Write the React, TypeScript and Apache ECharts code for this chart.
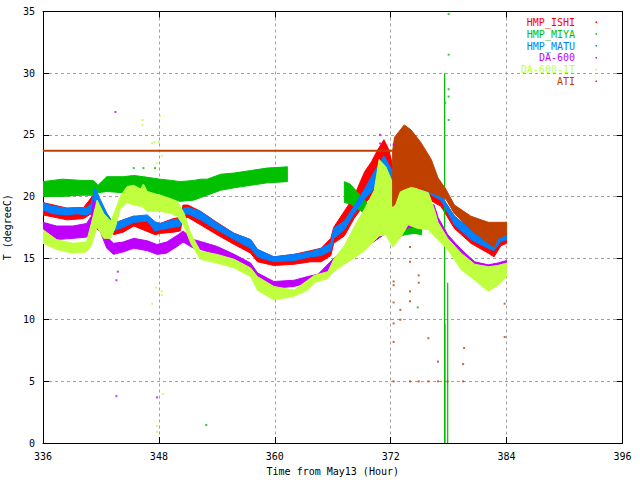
import React, { useEffect, useRef } from "react";
import * as echarts from "echarts";

const X_MIN = 336;
const X_MAX = 396;
const X_STEP = 12;
const Y_MIN = 0;
const Y_MAX = 35;
const Y_STEP = 5;

const X_TITLE = "Time from May13 (Hour)";
const Y_TITLE = "T (degreeC)";

const NAMES = ["HMP_ISHI", "HMP_MIYA", "HMP_MATU", "DA-600", "DA-600-1T", "ATI"];
const COLORS = ["#ff0000", "#00c000", "#0080ff", "#c000ff", "#c0ff40", "#c04000"];

// HMP_ISHI (red) band
const ishiT = [336.0, 338.5, 340.2, 341.4, 341.9, 342.6, 343.3, 344.3, 345.4, 347.6, 348.1, 349.5, 350.2, 350.5, 351.0, 352.3, 354.0, 355.8, 357.5, 358.2, 359.9, 362.0, 363.7, 364.8, 365.8, 366.1, 367.2, 368.2, 369.3, 370.0, 370.6, 371.3, 371.8, 372.2, 375.0, 376.5, 377.2, 378.6, 380.3, 382.1, 382.7, 383.4, 384.0];
const ishiLo = [18.5, 18.1, 18.2, 18.8, 18.5, 17.7, 16.9, 17.1, 17.6, 16.9, 17.0, 17.1, 17.2, 18.2, 18.3, 17.7, 16.9, 16.1, 15.4, 14.7, 14.4, 14.5, 14.7, 14.7, 15.2, 16.2, 16.8, 18.2, 19.4, 20.0, 20.5, 21.0, 20.6, 20.3, 20.3, 19.5, 19.2, 17.4, 16.2, 15.4, 15.1, 16.0, 16.2];
const ishiHi = [19.5, 19.05, 19.1, 20.3, 19.6, 18.6, 17.8, 18.1, 18.4, 17.9, 17.8, 18.2, 18.3, 19.3, 19.3, 18.8, 17.9, 17.0, 16.5, 15.7, 15.1, 15.3, 15.6, 15.8, 16.6, 17.5, 18.8, 20.0, 22.0, 22.8, 23.7, 24.6, 23.8, 22.5, 21.5, 20.6, 20.1, 18.4, 17.3, 16.4, 16.0, 16.9, 17.0];

// HMP_MIYA (green) bands
const miyaT1 = [336.0, 338.0, 340.0, 341.2, 341.7, 342.6, 344.3, 345.4, 346.4, 348.1, 349.3, 350.2, 351.6, 352.3, 353.0, 354.4, 355.8, 357.5, 359.2, 361.3];
const miyaLo1 = [20.0, 20.0, 20.1, 20.1, 20.3, 20.4, 20.3, 20.4, 20.2, 20.2, 19.8, 19.6, 19.7, 19.9, 20.1, 20.5, 20.7, 20.9, 21.1, 21.2];
const miyaHi1 = [21.2, 21.4, 21.3, 21.3, 20.9, 21.6, 21.6, 21.7, 21.6, 21.4, 21.3, 21.2, 21.3, 21.4, 21.4, 21.8, 21.9, 22.1, 22.3, 22.4];
const miyaT2 = [367.2, 367.8, 368.6, 369.5, 370.5, 371.5, 372.5, 373.5, 374.5, 375.2];
const miyaLo2 = [19.5, 19.4, 19.0, 18.5, 17.8, 17.0, 16.6, 16.9, 17.0, 16.9];
const miyaHi2 = [21.2, 21.0, 20.3, 19.5, 18.6, 17.8, 17.4, 17.8, 17.8, 17.6];
const miyaSpikeT = [377.58, 377.62, 377.9];
const miyaSpikeLo = [0, 0, 0];
const miyaSpikeHi = [30.0, 9.7, 13.0];
const miyaDotT = [378.0, 378.0, 378.0, 378.0, 377.65, 378.0, 352.9, 374.8, 345.4, 346.4, 347.6];
const miyaDotV = [34.8, 31.5, 28.7, 28.1, 27.6, 26.2, 1.46, 11.0, 22.3, 22.3, 22.3];

// HMP_MATU (blue) band
const matuT = [336.0, 337.0, 338.5, 339.5, 340.5, 341.0, 341.4, 341.9, 342.6, 343.3, 344.3, 345.4, 346.8, 347.6, 348.1, 349.5, 350.2, 350.5, 351.0, 352.3, 354.0, 355.8, 357.5, 358.2, 359.9, 362.0, 363.7, 364.8, 365.8, 366.1, 367.2, 368.2, 369.3, 370.0, 370.6, 371.3, 371.8, 372.2, 373.5, 375.0, 376.5, 377.2, 378.6, 380.3, 382.1, 382.7, 383.4, 384.0];
const matuLo = [18.9, 18.6, 18.5, 18.6, 18.5, 18.7, 19.2, 18.9, 18.1, 17.2, 17.5, 17.9, 18.0, 17.2, 17.3, 17.5, 17.6, 18.5, 18.6, 18.1, 17.3, 16.5, 15.8, 15.1, 14.7, 14.8, 15.1, 15.2, 15.6, 16.6, 17.3, 18.6, 19.8, 20.4, 21.0, 21.5, 21.0, 20.8, 20.8, 20.8, 20.0, 19.7, 17.7, 16.5, 15.8, 15.6, 16.35, 16.5];
const matuHi = [19.5, 19.2, 19.05, 19.1, 19.1, 19.4, 20.7, 19.8, 18.65, 17.8, 18.1, 18.4, 18.5, 17.95, 17.8, 18.1, 18.2, 19.05, 19.1, 18.8, 17.85, 17.0, 16.5, 15.7, 15.1, 15.3, 15.5, 15.8, 16.2, 17.4, 18.0, 19.2, 20.6, 21.6, 22.4, 23.3, 22.6, 22.0, 21.5, 21.5, 20.6, 20.1, 18.4, 17.3, 16.4, 16.0, 16.9, 17.0];

// DA-600 (purple) band
const da6T = [336.0, 337.4, 339.1, 340.5, 341.0, 341.2, 341.9, 342.6, 343.3, 344.3, 345.4, 346.8, 347.8, 348.8, 350.0, 350.5, 351.6, 352.3, 354.0, 355.8, 357.5, 358.2, 359.9, 362.0, 363.4, 364.5, 366.0, 368.0, 370.0, 371.5, 372.5, 374.0, 375.5, 376.5, 376.9, 377.9, 379.3, 380.7, 382.1, 383.1, 384.0];
const da6Lo = [17.1, 16.5, 16.6, 16.7, 17.0, 17.5, 17.2, 15.8, 15.3, 15.5, 15.8, 15.6, 15.3, 15.4, 16.0, 16.3, 15.8, 15.7, 15.3, 14.6, 14.1, 13.3, 12.55, 12.7, 13.0, 13.2, 14.0, 15.0, 16.2, 17.0, 17.0, 17.5, 17.5, 18.2, 17.4, 16.0, 14.8, 13.9, 13.7, 13.8, 14.0];
const da6Hi = [17.9, 17.6, 17.6, 17.8, 18.4, 19.7, 18.6, 16.75, 16.2, 16.3, 16.6, 16.4, 16.1, 16.3, 16.9, 17.2, 16.5, 16.35, 15.95, 15.3, 14.6, 13.8, 13.1, 13.2, 13.5, 13.7, 14.9, 16.2, 18.5, 19.5, 19.5, 19.0, 19.5, 19.3, 18.3, 16.9, 15.7, 14.7, 14.45, 14.6, 14.8];
const da6DotT = [343.5, 343.75, 343.6, 370.9, 370.9, 372.3, 343.6, 347.8];
const da6DotV = [26.85, 13.9, 13.2, 25.0, 24.3, 24.2, 3.8, 3.7];

// DA-600-1T (yellow-green) band
const da61T = [336.0, 337.4, 339.1, 340.5, 341.0, 341.6, 342.3, 343.0, 343.5, 344.0, 344.7, 345.4, 346.1, 346.4, 346.8, 348.1, 349.3, 349.9, 350.6, 351.3, 352.3, 354.0, 355.8, 357.5, 358.2, 359.9, 362.0, 363.4, 364.1, 365.5, 366.1, 367.2, 368.2, 369.3, 370.3, 370.8, 371.5, 372.2, 373.1, 373.8, 374.8, 375.9, 376.5, 376.9, 377.9, 379.3, 380.7, 382.1, 383.1, 384.0];
const da61Lo = [16.2, 15.7, 15.4, 15.5, 16.0, 17.5, 16.6, 16.6, 17.5, 19.0, 19.5, 19.3, 19.2, 19.1, 18.8, 18.8, 18.6, 18.4, 17.6, 16.2, 14.9, 14.6, 14.2, 13.5, 12.4, 11.6, 11.9, 12.4, 13.0, 13.35, 13.9, 14.5, 15.0, 15.6, 16.4, 16.8, 16.9, 15.9, 16.75, 17.7, 17.4, 17.3, 16.8, 16.5, 15.7, 14.05, 13.2, 12.3, 12.8, 13.5];
const da61Hi = [17.3, 16.5, 16.2, 16.3, 17.8, 19.7, 18.6, 18.0, 18.9, 20.0, 20.8, 20.9, 20.6, 21.0, 20.4, 20.1, 19.8, 19.6, 18.65, 17.0, 15.55, 15.3, 14.9, 14.2, 13.5, 12.7, 12.4, 13.2, 13.6, 13.9, 14.9, 16.0, 17.5, 19.0, 20.5, 23.0, 22.4, 21.1, 20.6, 20.9, 20.6, 20.3, 19.0, 17.9, 16.6, 15.4, 14.5, 14.3, 14.4, 14.6];
const da61DotT = [346.3, 346.3, 348.1, 347.3, 347.5, 348.0, 348.3, 347.8, 347.7, 348.3, 348.3, 347.3, 347.8, 348.4, 347.8];
const da61DotV = [26.2, 25.8, 26.5, 24.3, 24.4, 24.4, 23.3, 22.7, 12.6, 12.3, 12.0, 11.3, 0.9, 4.0, 1.4];

// ATI (brown): constant stretch, then band
const atiLineT = [336.0, 372.2];
const atiLineV = [23.7, 23.7];
const atiT = [372.2, 372.4, 372.9, 373.4, 374.1, 375.1, 376.2, 376.9, 377.7, 378.6, 380.3, 382.1, 382.7, 383.1, 384.0];
const atiLo = [19.2, 19.3, 20.4, 20.6, 20.8, 20.7, 20.3, 20.1, 19.8, 18.6, 17.3, 16.2, 15.9, 16.6, 16.9];
const atiHi = [23.7, 24.8, 25.3, 25.8, 25.4, 24.4, 23.0, 21.5, 20.6, 19.3, 18.4, 17.9, 17.9, 17.9, 17.9];
const atiDotT = [372.3, 372.3, 372.3, 372.3, 372.3, 374.0, 374.0, 374.0, 374.0, 374.9, 374.9, 373.0, 373.0, 375.9, 376.9, 379.5, 379.6, 383.8, 383.8, 372.3, 374.0, 374.9, 375.9, 376.9, 377.9, 379.5];
const atiDotV = [13.1, 12.8, 11.4, 9.7, 8.2, 15.9, 14.7, 12.3, 11.5, 13.6, 13.0, 10.8, 10.0, 8.5, 6.6, 6.4, 7.7, 11.3, 8.6, 5.0, 5.0, 5.0, 5.0, 5.0, 5.0, 5.0];

const FONT = "DejaVu Sans Mono";

function rows3(t: number[], lo: number[], hi: number[]) {
  return t.map((x, i) => [x, lo[i], hi[i]]);
}

function band(name: string, color: string, t: number[], lo: number[], hi: number[]) {
  const data = rows3(t, lo, hi);
  return {
    type: "custom",
    name,
    data,
    clip: true,
    silent: true,
    encode: { x: 0, y: [1, 2] },
    renderItem: (params: any, api: any) => {
      if (params.dataIndex !== 0) return null;
      const top = data.map((r) => api.coord([r[0], r[2]]));
      const bot = data.map((r) => api.coord([r[0], r[1]])).reverse();
      return {
        type: "polygon",
        shape: { points: top.concat(bot) },
        style: { fill: color, stroke: color, lineWidth: 1 },
      };
    },
  };
}

function spikes(name: string, color: string, t: number[], lo: number[], hi: number[]) {
  const data = rows3(t, lo, hi);
  return {
    type: "custom",
    name,
    data,
    clip: true,
    silent: true,
    encode: { x: 0, y: [1, 2] },
    renderItem: (params: any, api: any) => {
      const a = api.coord([api.value(0), api.value(1)]);
      const b = api.coord([api.value(0), api.value(2)]);
      return {
        type: "line",
        shape: { x1: a[0], y1: a[1], x2: b[0], y2: b[1] },
        style: { stroke: color, lineWidth: 1.2 },
      };
    },
  };
}

function dots(name: string, color: string, t: number[], v: number[]) {
  return {
    type: "scatter",
    name,
    data: t.map((x, i) => [x, v[i]]),
    symbol: "rect",
    symbolSize: 2,
    silent: true,
    itemStyle: { color },
  };
}

export default function App() {
  const ref = useRef<HTMLDivElement>(null);

  useEffect(() => {
    document.body.style.margin = "0";
    if (!ref.current) return;
    const chart = echarts.init(ref.current, undefined, { renderer: "svg" });

    const axisLine = { show: true, onZero: false, lineStyle: { color: "#000", width: 1 } };
    const tick = { show: true, inside: true, length: 6, lineStyle: { color: "#000", width: 1 } };
    const grid = { show: true, lineStyle: { color: "#a0a0a0", width: 1, type: [3, 3] } };
    const label = { color: "#000", fontFamily: FONT, fontSize: 10 };

    const legendGraphics: any[] = [];
    NAMES.forEach((n, i) => {
      const y = 22.5 + i * 11.8;
      legendGraphics.push({
        type: "text",
        x: 575,
        y,
        style: {
          text: n,
          fill: COLORS[i],
          font: `10px "${FONT}"`,
          textAlign: "right",
          textVerticalAlign: "middle",
        },
      });
      legendGraphics.push({
        type: "rect",
        shape: { x: 595.5, y: y - 1, width: 1.5, height: 1.5 },
        style: { fill: COLORS[i] },
      });
    });

    chart.setOption({
      animation: false,
      backgroundColor: "#ffffff",
      textStyle: { fontFamily: FONT },
      grid: {
        left: 43,
        right: 17.5,
        top: 11.5,
        bottom: 37,
        containLabel: false,
        outerBoundsMode: "none",
      },
      xAxis: [
        {
          type: "value",
          min: X_MIN,
          max: X_MAX,
          interval: X_STEP,
          position: "bottom",
          axisLine,
          axisTick: tick,
          axisLabel: { ...label, margin: 8 },
          splitLine: grid,
          name: X_TITLE,
          nameLocation: "middle",
          nameGap: 23,
          nameTextStyle: { ...label },
        },
        {
          type: "value",
          min: X_MIN,
          max: X_MAX,
          interval: X_STEP,
          position: "top",
          axisLine,
          axisTick: tick,
          axisLabel: { show: false },
          splitLine: { show: false },
        },
      ],
      yAxis: [
        {
          type: "value",
          min: Y_MIN,
          max: Y_MAX,
          interval: Y_STEP,
          position: "left",
          axisLine,
          axisTick: tick,
          axisLabel: { ...label, margin: 8 },
          splitLine: grid,
          name: Y_TITLE,
          nameLocation: "middle",
          nameGap: 26,
          nameRotate: 90,
          nameTextStyle: { ...label },
        },
        {
          type: "value",
          min: Y_MIN,
          max: Y_MAX,
          interval: Y_STEP,
          position: "right",
          axisLine,
          axisTick: tick,
          axisLabel: { show: false },
          splitLine: { show: false },
        },
      ],
      graphic: legendGraphics,
      series: [
        band(NAMES[0], COLORS[0], ishiT, ishiLo, ishiHi),
        band(NAMES[1], COLORS[1], miyaT1, miyaLo1, miyaHi1),
        band(NAMES[1], COLORS[1], miyaT2, miyaLo2, miyaHi2),
        spikes(NAMES[1], COLORS[1], miyaSpikeT, miyaSpikeLo, miyaSpikeHi),
        dots(NAMES[1], COLORS[1], miyaDotT, miyaDotV),
        band(NAMES[2], COLORS[2], matuT, matuLo, matuHi),
        band(NAMES[3], COLORS[3], da6T, da6Lo, da6Hi),
        dots(NAMES[3], COLORS[3], da6DotT, da6DotV),
        band(NAMES[4], COLORS[4], da61T, da61Lo, da61Hi),
        dots(NAMES[4], COLORS[4], da61DotT, da61DotV),
        {
          type: "line",
          name: NAMES[5],
          data: atiLineT.map((x, i) => [x, atiLineV[i]]),
          symbol: "none",
          silent: true,
          lineStyle: { color: COLORS[5], width: 2 },
        },
        band(NAMES[5], COLORS[5], atiT, atiLo, atiHi),
        dots(NAMES[5], COLORS[5], atiDotT, atiDotV),
      ],
    });

    return () => chart.dispose();
  }, []);

  return (
    <div
      ref={ref}
      style={{ position: "absolute", left: 0, top: 0, width: 640, height: 480, background: "#fff" }}
    />
  );
}
